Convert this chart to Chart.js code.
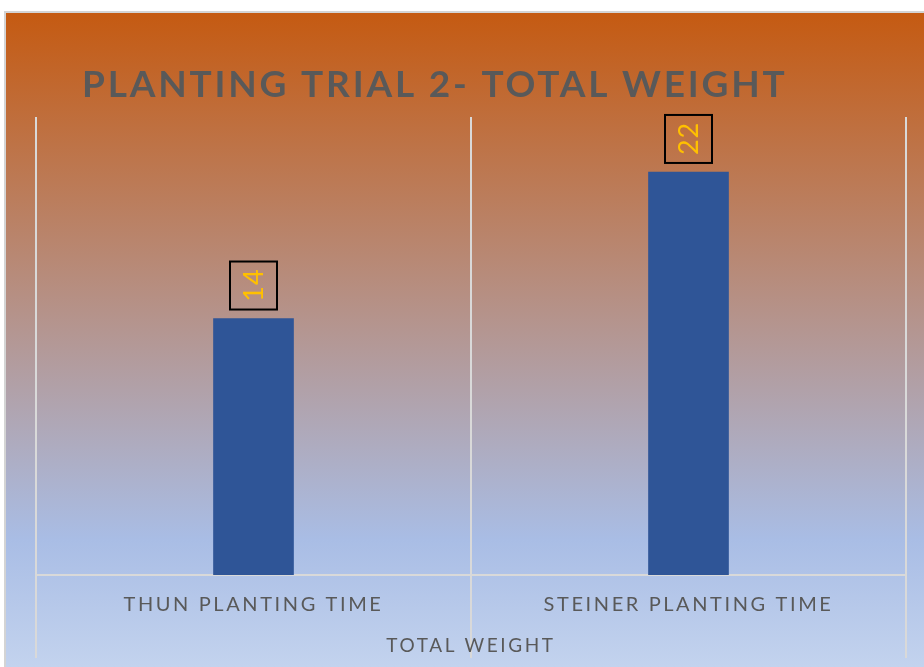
<!DOCTYPE html>
<html>
<head>
<meta charset="utf-8">
<script src="https://cdn.jsdelivr.net/npm/chart.js@4.4.1/dist/chart.umd.min.js"></script>
<style>
  html, body { margin: 0; padding: 0; background: #fff; }
  #wrap { width: 924px; height: 667px; }
</style>
</head>
<body>
<div id="wrap"><canvas id="grafico" width="924" height="667"></canvas></div>
<script>
/* -------------------- DADOS -------------------- */
const categorias = ["THUN PLANTING TIME", "STEINER PLANTING TIME"];
const pesoTotal = [14, 22];
const tituloGrafico = "PLANTING TRIAL 2- TOTAL WEIGHT";
const tituloEixoX = "TOTAL WEIGHT";
const limitesY = [0, 25];

/* -------------------- PLUGINS -------------------- */
// fundo em degradê laranja -> azul, com a borda cinza do gráfico
const fundo = {
    id: "fundo",
    beforeDraw(chart) {
        const { ctx, width, height } = chart;
        ctx.save();
        ctx.fillStyle = "#ffffff";
        ctx.fillRect(0, 0, width, height);
        const g = ctx.createLinearGradient(0, 11, 0, height);
        g.addColorStop(0, "#c55a11");
        g.addColorStop(0.806, "#a9bde5");
        g.addColorStop(1, "#c3d3ee");
        ctx.fillStyle = g;
        ctx.fillRect(4, 11, width - 4, height - 11);
        ctx.fillStyle = "#d4d4d4";
        ctx.fillRect(4, 11, width - 4, 2);
        ctx.fillRect(4, 11, 2, height - 11);
        ctx.restore();
        ctx.letterSpacing = "2.6px"; // espaçamento dos textos do eixo
    }
};

// título com espaçamento entre letras
const titulo = {
    id: "titulo",
    afterDraw(chart) {
        const { ctx } = chart;
        ctx.save();
        ctx.letterSpacing = "2.8px";
        ctx.font = "bold 37px Lato";
        ctx.fillStyle = "#595959";
        ctx.textAlign = "left";
        ctx.textBaseline = "alphabetic";
        ctx.fillText(tituloGrafico, 82, 97);
        ctx.restore();
    }
};

// rótulos de valor girados, dentro de uma caixa
const rotulosValor = {
    id: "rotulosValor",
    afterDatasetsDraw(chart) {
        const { ctx } = chart;
        const meta = chart.getDatasetMeta(0);
        meta.data.forEach((bar, i) => {
            const cx = bar.x;
            const base = bar.y - 9;
            ctx.save();
            ctx.strokeStyle = "#000000";
            ctx.lineWidth = 2;
            ctx.strokeRect(cx - 23.5, base - 48, 47, 48);
            ctx.translate(cx, base - 24);
            ctx.rotate(-Math.PI / 2);
            ctx.letterSpacing = "1px";
            ctx.font = "27px Lato";
            ctx.fillStyle = "#ffc000";
            ctx.textAlign = "center";
            ctx.textBaseline = "middle";
            ctx.fillText(String(pesoTotal[i]), 0.5, 1);
            ctx.restore();
        });
    }
};

/* -------------------- GRÁFICO -------------------- */
new Chart(document.getElementById("grafico"), {
    type: "bar",
    data: {
        labels: categorias,
        datasets: [{
            label: "Total weight",
            data: pesoTotal,
            backgroundColor: "#2f5597",
            barThickness: 80
        }]
    },
    options: {
        responsive: false,
        animation: false,
        layout: { padding: { left: 36, right: 18, top: 117, bottom: 0 } },
        plugins: {
            legend: { display: false },
            tooltip: { enabled: false },
            title: { display: false }
        },
        scales: {
            x: {
                offset: true,
                grid: { offset: true, color: "#d9d9d9", lineWidth: 2, tickLength: 83 },
                border: { display: true, color: "#d9d9d9", width: 2 },
                ticks: { color: "#595959", font: { family: "Lato", size: 20 }, padding: -65 },
                title: {
                    display: true,
                    text: tituloEixoX,
                    color: "#595959",
                    font: { family: "Lato", size: 19 },
                    padding: { top: 0, bottom: 10 }
                },
                afterFit(scale) { scale.height = 92; }
            },
            y: { display: false, min: limitesY[0], max: limitesY[1] }
        }
    },
    plugins: [fundo, titulo, rotulosValor]
});
</script>
</body>
</html>
